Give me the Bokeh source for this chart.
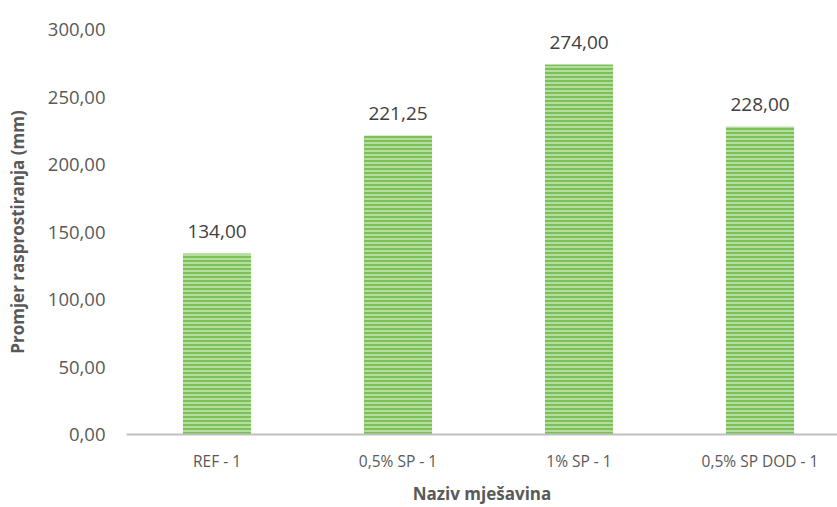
from bokeh.plotting import figure
from bokeh.models import Range1d, FixedTicker, CustomJSTickFormatter, ColumnDataSource
from bokeh.core.properties import value
from bokeh.embed import file_html
from bokeh.resources import INLINE

categories = ["REF - 1", "0,5% SP - 1", "1% SP - 1", "0,5% SP DOD - 1"]
values = [134.00, 221.25, 274.00, 228.00]
y_ticks = [0, 50, 100, 150, 200, 250, 300]

idx = list(range(len(categories)))
labels = [f"{v:.2f}".replace(".", ",") for v in values]
src = ColumnDataSource(dict(x=idx, top=values, lab=labels))

FONT = "Open Sans"
GRAY = "#595959"

p = figure(width=837, height=507, output_backend="svg", toolbar_location=None,
           x_range=Range1d(-0.5, 3.428), y_range=Range1d(0, 300),
           min_border_left=126, min_border_right=0, min_border_top=29, min_border_bottom=73)
p.outline_line_color = None
p.xgrid.visible = False
p.ygrid.visible = False
p.background_fill_color = "white"

p.vbar(x="x", top="top", width=0.376, source=src, fill_color="#7cc05a", line_color=None,
       hatch_pattern="horizontal_line", hatch_color="#d2ecc3", hatch_scale=4, hatch_weight=1.3)

p.text(x="x", y="top", text="lab", source=src, text_align="center", text_baseline="alphabetic",
       y_offset=-22, text_font=value(FONT), text_font_size="19px", text_color="#404040")

# y axis
p.yaxis.ticker = FixedTicker(ticks=y_ticks)
p.yaxis.formatter = CustomJSTickFormatter(code="return tick.toFixed(2).replace('.', ',');")
p.yaxis.axis_line_color = None
p.yaxis.major_tick_line_color = None
p.yaxis.minor_tick_line_color = None
p.yaxis.major_tick_out = 0
p.yaxis.major_tick_in = 0
p.yaxis.major_label_standoff = 21
p.yaxis.major_label_text_font = FONT
p.yaxis.major_label_text_font_size = "18.5px"
p.yaxis.major_label_text_color = GRAY
p.yaxis.axis_label = "Promjer rasprostiranja (mm)"
p.yaxis.axis_label_text_font = FONT
p.yaxis.axis_label_text_font_size = "17px"
p.yaxis.axis_label_text_font_style = "bold"
p.yaxis.axis_label_text_color = GRAY
p.yaxis.axis_label_standoff = 16

# x axis
p.xaxis.ticker = FixedTicker(ticks=idx)
p.xaxis.major_label_overrides = {i: c for i, c in zip(idx, categories)}
p.xaxis.axis_line_color = "#bfbfbf"
p.xaxis.axis_line_width = 2
p.xaxis.major_tick_line_color = None
p.xaxis.minor_tick_line_color = None
p.xaxis.major_tick_out = 0
p.xaxis.major_tick_in = 0
p.xaxis.major_label_standoff = 15
p.xaxis.major_label_text_font = FONT
p.xaxis.major_label_text_font_size = "15.5px"
p.xaxis.major_label_text_color = GRAY
p.xaxis.axis_label = "Naziv mješavina"
p.xaxis.axis_label_text_font = FONT
p.xaxis.axis_label_text_font_size = "17px"
p.xaxis.axis_label_text_font_style = "bold"
p.xaxis.axis_label_text_color = GRAY
p.xaxis.axis_label_standoff = 7

open("out.html", "w").write(file_html(p, INLINE))
